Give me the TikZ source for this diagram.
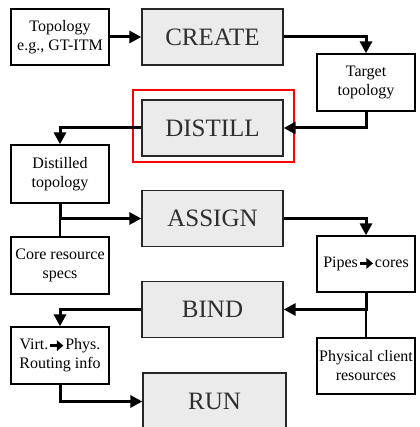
\documentclass[tikz,border=0pt]{standalone}
\usepackage{fontspec}
\setmainfont{Liberation Serif}
\newfontfamily\labelfont{Liberation Serif}
\usetikzlibrary{arrows.meta}
\definecolor{stagefill}{HTML}{EBEBEB}
\definecolor{stagetext}{HTML}{2E2E2E}
% heavy inline arrow used inside the small labels
\newcommand{\harrow}{\hspace{0.5pt}\tikz[baseline=-4.2pt]\draw[line width=3pt,-{Triangle[length=6.5pt,width=10.5pt]}] (0pt,0pt) -- (13pt,0pt);\hspace{0.5pt}}
\begin{document}
\begin{tikzpicture}[x=1pt,y=-1pt,
  stage/.style={draw=black!85,line width=1.3pt,fill=stagefill,text=stagetext,
    minimum width=141pt,minimum height=56pt,inner sep=0pt,
    font=\labelfont\fontsize{25}{28}\selectfont},
  info/.style={draw=black,line width=1.3pt,fill=white,align=center,
    minimum width=98pt,minimum height=56pt,inner sep=0pt,
    font=\labelfont\fontsize{16}{19}\selectfont},
  flow/.style={line width=3pt,-{Triangle[length=12pt,width=12pt]}},
  thin link/.style={line width=1.3pt},
  highlight/.style={draw=red,line width=2pt}]
\useasboundingbox (0,0) rectangle (419,427);
\clip (0,0) rectangle (419,427);
\fill[white] (0,0) rectangle (419,427);

% pipeline stages
\node[stage] (create) at (212.5,37) {CREATE};
\node[stage] (distill) at (212.5,128) {DISTILL};
\node[stage] (assign) at (212.5,218.5) {ASSIGN};
\node[stage] (bind) at (212.5,309.5) {BIND};
\node[stage,minimum width=143pt,minimum height=57pt] (run) at (214.5,401.5) {RUN};

% highlight around DISTILL
\draw[highlight] (133,90) rectangle (294,162);

% inputs and outputs
\node[info] (topo) at (60,37) {Topology\\e.g., GT-ITM};
\node[info,minimum height=57pt] (target) at (366,82.5) {Target\\topology};
\node[info,minimum height=58pt] (distilled) at (60,174) {Distilled\\topology};
\node[info,minimum height=57pt] (core) at (60,265.5) {Core resource\\specs};
\node[info] (pipes) at (366,264) {Pipes\harrow cores};
\node[info] (phys) at (366,366) {Physical client\\resources};
\node[info,minimum height=57pt] (virt) at (60,355.5) {Virt.\harrow Phys.\\Routing info};

% branch points
\coordinate (b1) at (distilled.south |- assign.west);
\coordinate (b2) at (pipes.south |- bind.east);

% connectors
\draw[flow] (topo.east) -- (create.west);
\draw[flow] (create.east) -| (target.north);
\draw[flow] (target.south) |- (distill.east);
\draw[flow] (distill.west) -| (distilled.north);
\draw[flow] (distilled.south) -- (b1) -- (assign.west);
\draw[thin link] (b1) -- (core.north);
\draw[flow] (assign.east) -| (pipes.north);
\draw[flow] (pipes.south) -- (b2) -- (bind.east);
\draw[thin link] (b2) -- (phys.north);
\draw[flow] (bind.west) -| (virt.north);
\draw[flow] (virt.south) |- (run.west);
\end{tikzpicture}
\end{document}
